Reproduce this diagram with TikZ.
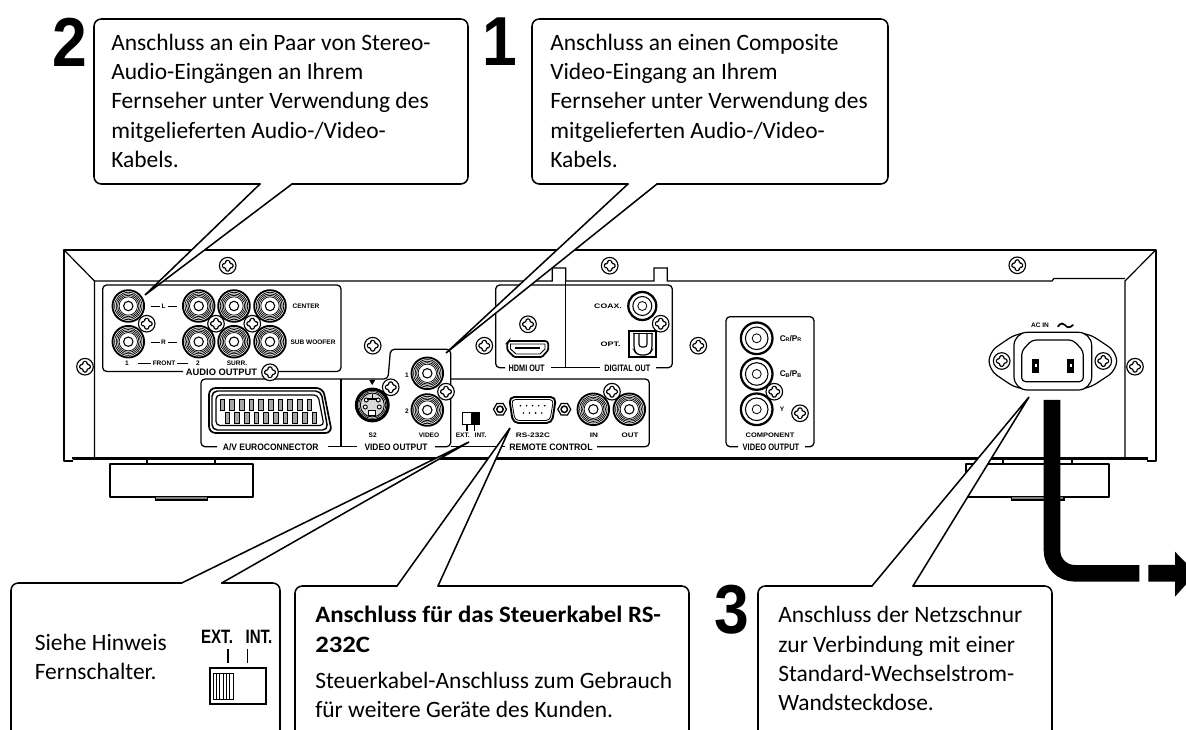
\documentclass[tikz,border=0pt]{standalone}
\usepackage{graphicx}
\usepackage{fontspec}
\setmainfont{Carlito}
\newfontfamily\labf{Liberation Sans}
\newfontfamily\narrowf{Liberation Sans}[FakeStretch=0.78]
\newcommand\hsc[2]{\scalebox{#1}[1]{#2}}
\newcommand\rb{\rule{0pt}{16pt}}
\tikzset{
  px/.style={x=0.75pt,y=-0.75pt},
  thickl/.style={line width=1.6pt,line cap=round,line join=round},
  thinl/.style={line width=0.95pt,line join=round},
  hair/.style={line width=0.5pt},
  balloon/.style={draw=black,line width=1.15pt,line cap=round,line join=miter},
  txt/.style={anchor=north west,inner sep=0pt,yshift=16pt,align=left,font=\fontsize{17.6}{22}\selectfont},
  bignum/.style={inner sep=0pt,font=\labf\bfseries\fontsize{52}{52}\selectfont},
  labs/.style={inner sep=0pt,font=\labf\bfseries\fontsize{4.9}{5}\selectfont},
  labm/.style={inner sep=0pt,font=\labf\bfseries\fontsize{7.0}{8}\selectfont},
  labn/.style={inner sep=0pt,font=\narrowf\bfseries\fontsize{14.5}{15}\selectfont},
}
% callout: base y, far y, left, right, tail1, tail2, tip coordinate
\newcommand\balloonat[7]{%
  \fill[white] (#5,#1) -- (#7) -- (#6,#1) -- (#4,#1) -- (#4,#2) -- (#3,#2) -- (#3,#1) -- cycle;
  \draw[balloon,rounded corners=5.5pt] (#6,#1) -- (#4,#1) -- (#4,#2) -- (#3,#2) -- (#3,#1) -- (#5,#1);
  \draw[balloon] (#5,#1) -- (#7) -- (#6,#1);}
\newcommand\screwat[2]{\begin{scope}[shift={(#1,#2)}]
  \draw[fill=white,line width=.85pt] (0,0) circle (8.3);
  \draw[line width=.85pt,rounded corners=.9pt,fill=white] (-2,-5.3)--(2,-5.3)--(2,-2)--(5.3,-2)--(5.3,2)--(2,2)--(2,5.3)--(-2,5.3)--(-2,2)--(-5.3,2)--(-5.3,-2)--(-2,-2)--cycle;
\end{scope}}
\newcommand\rcaA[2]{\begin{scope}[shift={(#1,#2)}]
  \draw[fill=white,line width=1.4pt] (0,0) circle (15.8);
  \foreach \r in {13.7,12.2,10.7,9.2} \draw[line width=.55pt] (0,0) circle (\r);
  \draw[line width=.8pt] (0,0) circle (4.7);
\end{scope}}
\newcommand\rcaB[3]{\begin{scope}[shift={(#1,#2)}]
  \draw[fill=white,line width=1.7pt] (0,0) circle (#3);
  \draw[line width=.8pt] (0,0) circle ({#3-4.5});
  \draw[line width=.6pt] (0,0) circle (4.5);
\end{scope}}
\begin{document}
\begin{tikzpicture}[px]
\useasboundingbox (0,0) rectangle (1186,730);
\clip (0,0) rectangle (1186,730);
% ---------- feet
\draw[thickl,fill=white] (147.3,464)--(110,464)--(110,496.7)--(253.3,496.7)--(253.3,464)--(215,464);
\draw[line width=.8pt,fill=gray] (155.7,497)--(155.7,500)--(207.7,500)--(207.7,497);
\draw[line width=.9pt] (147.3,464)--(215,464);
\draw[thickl] (147.3,458)--(147.3,464) (215,458)--(215,464);
\draw[thickl,fill=white] (1003.3,464)--(966,464)--(966,496.7)--(1109.3,496.7)--(1109.3,464)--(1071.7,464);
\draw[line width=.8pt,fill=gray] (1011.7,497)--(1011.7,500)--(1064,500)--(1064,497);
\draw[line width=.9pt] (1003.3,464)--(1071.7,464);
\draw[thickl] (1003.3,458)--(1003.3,464) (1071.7,458)--(1071.7,464);
% ---------- chassis
\draw[line width=1.7pt,line join=round] (73,461)--(64,461)--(64,250)--(1155.7,250)--(1155.7,461)--(1146.7,461);
\draw[line width=1.9pt] (73,459.5)--(73,458.3)--(1146.7,458.3)--(1146.7,460);
\draw[line width=.9pt] (64,250)--(94.5,281)--(94.5,458) (1155.7,250)--(1125,281)--(1125,458);
\draw[line width=.9pt] (94.5,281)--(552.3,281)--(552.3,268)--(565.7,268)--(565.7,281)--(654,281)--(654,268)--(667.3,268)--(667.3,281)--(1052,281)--(1054,278.5)--(1125,278.5);
% ---------- panels
\draw[thinl,rounded corners=3pt] (183,371.5)--(102.7,371.5)--(102.7,285)--(341,285)--(341,371.5)--(262,371.5);
\draw[thinl,rounded corners=3pt] (217,446.7)--(201,446.7)--(201,379)--(388,379)--(390.5,349.3)--(450.7,349.3)--(450.7,446.7)--(435,446.7);
\draw[thinl] (327.7,446.7)--(356.7,446.7) (341,379)--(341,446.7);
\draw[thinl,rounded corners=3pt] (450.7,379)--(649.3,379)--(649.3,446.7)--(597,446.7);
\draw[thinl] (450.7,446.7)--(505,446.7);
\draw[thinl] (551,367.7)--(600,367.7);
\draw[thinl,rounded corners=3pt] (656,367.7)--(672.3,367.7)--(672.3,285)--(495.7,285)--(495.7,367.7)--(505,367.7);
\draw[thinl] (565.7,281)--(565.7,367.7);
\draw[thinl,rounded corners=3pt] (738,446.7)--(726,446.7)--(726,316.7)--(814,316.7)--(814,446.7)--(805,446.7);
% ---------- jacks
\foreach \x in {128.3,198.7,234,270} {\rcaA{\x}{306}\rcaA{\x}{341.7}}
\rcaA{427.3}{373.3}\rcaA{427.3}{410}\rcaA{593.3}{409.3}\rcaA{629.3}{409.3}
\rcaB{756.7}{338.3}{15.8}\rcaB{756.7}{374}{15.8}\rcaB{756.7}{409.3}{15.8}
\rcaB{642.3}{306}{14}
% ---------- SCART
\draw[line width=1.3pt,rounded corners=5pt,fill=white] (209,388)--(323,388)--(332,433)--(209,433)--cycle;
\draw[line width=1.1pt,rounded corners=4pt] (212,391)--(321,391)--(328,430)--(212,430)--cycle;
\draw[line width=.9pt,rounded corners=3pt] (216,395)--(318,395)--(324,425.5)--(216,425.5)--cycle;
\foreach \i in {0,...,9} {
  \draw[fill=gray!70,line width=.7pt] ({220+9.7*\i},399) rectangle ++(4.6,11);
  \draw[fill=gray!70,line width=.7pt] ({225+9.7*\i},412) rectangle ++(4.6,11);
}
% ---------- S-video
\fill (369.2,380)--(375.2,380)--(372.2,385)--cycle;
\draw[line width=2.4pt,fill=white] (372.3,405) circle (15.8);
\draw[line width=.5pt] (372.3,405) circle (13.4);
\draw[line width=.7pt,fill=gray!30] (372.3,405) circle (12);
\foreach \a/\b in {-6/-5,6/-5,-7/2,7/2} \draw[line width=.7pt,fill=white] (372.3+\a,405+\b) circle (2);
\draw[line width=.7pt,fill=white] (368.8,410) rectangle (375.8,415);
\draw[line width=1pt] (372.3,394)--(372.3,399) (367,399)--(377,399);
% ---------- switch
\draw[line width=.8pt,fill=white] (462.7,412.7) rectangle (479,424.3);
\fill (470.5,412.7) rectangle (479,424.3);
\draw[line width=.8pt] (467,424.3)--(467,431) (474.5,424.3)--(474.5,431);
% ---------- RS-232
\foreach \x in {500,564.3} {
  \draw[line width=.9pt,fill=white] (\x-6.5,409.3)--(\x-3.2,403.6)--(\x+3.2,403.6)--(\x+6.5,409.3)--(\x+3.2,415)--(\x-3.2,415)--cycle;
  \draw[line width=1.1pt] (\x,409.3) circle (3.2);
}
\draw[line width=1.4pt,fill=white,rounded corners=4pt] (509,397)--(556,397)--(552,423)--(513,423)--cycle;
\draw[line width=.6pt,rounded corners=3pt] (511.5,399.5)--(553.5,399.5)--(550,420.5)--(515,420.5)--cycle;
\foreach \i in {0,...,4} \fill (520.4+\i*6.1,405.7) circle (.9);
\foreach \i in {0,...,3} \fill (523.4+\i*6.1,413) circle (.9);
% ---------- HDMI
\draw[line width=1.3pt,fill=white,rounded corners=1pt] (509,341)--(546.5,341)--(548.3,343)--(548.3,350)--(542,357)--(514,357)--(507.3,350)--(507.3,343)--cycle;
\draw[line width=.7pt] (510.5,344)--(545,344)--(545,349)--(540,354)--(516,354)--(510.5,349)--cycle;
\fill (515,346.6) rectangle (540,349.4);
% ---------- optical
\draw[line width=1.7pt,fill=white] (629.3,331) rectangle (656,357.3);
\draw[line width=.9pt,rounded corners=3pt] (634,333)--(634,350)--(637,355)--(649,355)--(652,350)--(652,333);
\draw[line width=.8pt,rounded corners=2pt] (639,333)--(639,347)--(647,347)--(647,333);
\draw[line width=.6pt] (633,333.5)--(653,333.5);
% ---------- AC inlet
\draw[line width=.9pt,fill=white,rounded corners=7pt] (1017,333)--(989,352)--(989,370)--(1017,389)--(1088,389)--(1116.7,370)--(1116.7,352)--(1088,333)--cycle;
\draw[line width=.9pt,fill=white,rounded corners=10pt] (1014,332.3) rectangle (1091.7,390);
\draw[line width=.9pt,rounded corners=3pt] (1021.7,381.7)--(1021.7,351)--(1032,340)--(1073,340)--(1083.3,351)--(1083.3,381.7)--cycle;
\foreach \x in {1035.7,1070.7} {\draw[line width=.8pt,fill=black] (\x-2.8,360) rectangle (\x+2.8,372);
  \fill[white] (\x-1.2,364) rectangle (\x+1.2,367);}
\draw[line width=1.3pt,line cap=round] (1058,326.5) .. controls (1061,322.5) and (1063,323) .. (1065,325) .. controls (1067,328) and (1070,328) .. (1073,325);
% ---------- screws
\foreach \x/\y in {227.7/265.7,85/366.7,146.7/323.7,216/323.7,252.3/323.7,372.7/345.7,270/372.3,390.7/387.3,609.7/265.7,484.3/345.7,528/324.3,660.7/323.7,698.3/345.7,446/391.7,612/391.7,774.3/391.7,1017.3/265.3,800/413.3,1001.7/361,1103.3/361,1135/366.7} {\screwat{\x}{\y}}
% ---------- panel labels
\draw[hair] (150.7,306)--(160,306) (168,306)--(177,306) (150.7,342)--(160,342) (168,342)--(177,342) (138,363)--(151,363) (177,363)--(188,363);
\node[labs] (tL) at (163.5,306) {L};
\node[labs] (tR) at (163.5,342) {R};
\node[labs] (tCe) at (306,306) {CENTER};
\node[labs] (tSub) at (313,342) {SUB WOOFER};
\node[labs] (tF1) at (127,363) {1};
\node[labs] (tFr) at (164,363) {FRONT};
\node[labs] (tF2) at (198,363) {2};
\node[labs] (tSu) at (237,363) {SURR.};
\node[labm] (tAudio) at (221.5,372) {AUDIO OUTPUT};
\node[labm] (tEuro) at (270.7,447) {\hsc{.91}{A/V EUROCONNECTOR}};
\node[labm] (tVid1) at (396,447) {\hsc{.9}{VIDEO OUTPUT}};
\node[labm] (tRem) at (551,447) {\hsc{.94}{REMOTE CONTROL}};
\node[labm] (tHdmi) at (526.7,368) {\hsc{.78}{HDMI OUT}};
\node[labm] (tDig) at (627.3,368) {\hsc{.78}{DIGITAL OUT}};
\node[labm] (tVid2) at (771,447) {\hsc{.81}{VIDEO OUTPUT}};
\node[labs] (tS2) at (372.7,435) {S2};
\node[labs] (tVideo) at (429,435) {VIDEO};
\node[labs] (tV1) at (407,375) {1};
\node[labs] (tV2) at (407,411) {2};
\node[labs] (tRs) at (533,435) {\hsc{1.27}{RS-232C}};
\node[labs] (tIn) at (594,435) {\hsc{1.25}{IN}};
\node[labs] (tOut) at (630,435) {\hsc{1.22}{OUT}};
\node[labs] (tExt) at (462.7,435) {EXT.};
\node[labs] (tInt) at (480.5,435) {INT.};
\node[labs] (tCoax) at (608,306) {\hsc{1.33}{COAX.}};
\node[labs] (tOpt) at (610.7,344) {\hsc{1.38}{OPT.}};
\node[labs,anchor=west] (tCr) at (779.5,338.5) {\fontsize{6.2}{7}\selectfont C\raisebox{-.4pt}{\fontsize{4}{5}\selectfont R}/P\raisebox{-.4pt}{\fontsize{4}{5}\selectfont R}};
\node[labs,anchor=west] (tCb) at (779.5,374) {\fontsize{6.2}{7}\selectfont C\raisebox{-.4pt}{\fontsize{4}{5}\selectfont B}/P\raisebox{-.4pt}{\fontsize{4}{5}\selectfont B}};
\node[labs] (tY) at (782,409) {Y};
\node[labs] (tComp) at (770,435) {\hsc{1.15}{COMPONENT}};
\node[labs] (tAc) at (1040,325.5) {AC IN};
% ---------- cord
\draw[line width=12.4pt,rounded corners=17pt] (1052,400)--(1052,573.3)--(1139.3,573.3);
\fill (1148.3,565)--(1175,565)--(1175,551.7)--(1196,573.3)--(1175,596.7)--(1175,581.7)--(1148.3,581.7)--cycle;
% ---------- callouts
\coordinate (tipTwo) at (145,295);
\coordinate (tipOne) at (446,353);
\coordinate (tipSw) at (469,442);
\coordinate (tipRs) at (510,428);
\coordinate (tipAc) at (1029,397);
\balloonat{184}{19}{94}{468}{260}{292}{tipTwo}
\balloonat{184}{19}{532}{888}{628}{657}{tipOne}
\balloonat{583}{745}{11}{280}{181.7}{221.7}{tipSw}
\balloonat{586}{745}{295}{689}{397}{438}{tipRs}
\balloonat{586}{745}{758}{1052}{872}{913}{tipAc}
% ---------- numbers
\node[bignum] (numTwo) at (69.5,42) {\hsc{.9}{2}};
\node[bignum] (numOne) at (500,42) {\hsc{.9}{1}};
\node[bignum] (numThree) at (731.5,610) {\hsc{.9}{3}};
% ---------- texts
\node[txt] (txtTwo) at (111,50) {\rb Anschluss an ein Paar von Stereo-\\Audio-Eingängen an Ihrem\\Fernseher unter Verwendung des\\mitgelieferten Audio-/Video-\\Kabels.};
\node[txt] (txtOne) at (550,50) {\rb Anschluss an einen Composite\\Video-Eingang an Ihrem\\Fernseher unter Verwendung des\\mitgelieferten Audio-/Video-\\Kabels.};
\node[txt] (txtSw) at (34.5,650) {\rb Siehe Hinweis\\Fernschalter.};
\node[txt] (txtRsH) at (315,622.7) {\rb\bfseries\hsc{1.06}{Anschluss für das Steuerkabel RS-}\\\bfseries\hsc{1.14}{232C}};
\node[txt] (txtRs) at (315,688) {\rb Steuerkabel-Anschluss zum Gebrauch\\für weitere Geräte des Kunden.};
\node[txt] (txtAc) at (778,622.7) {\rb Anschluss der Netzschnur\\zur Verbindung mit einer\\Standard-Wechselstrom-\\Wandsteckdose.};
% ---------- switch sketch in callout
\node[labn] (swExt) at (217,637) {EXT.};
\node[labn] (swInt) at (259,637) {INT.};
\draw[line width=1.2pt] (227.7,649)--(227.7,663) (247.3,649)--(247.3,663);
\draw[line width=1.3pt,fill=white] (210,668.3) rectangle (265.7,704.3);
\draw[line width=.6pt] (213.3,673) rectangle (233,699);
\foreach \x in {216.5,219.7,222.9,226.1,229.3} \draw[line width=.5pt] (\x,673)--(\x,699);
\end{tikzpicture}
\end{document}
